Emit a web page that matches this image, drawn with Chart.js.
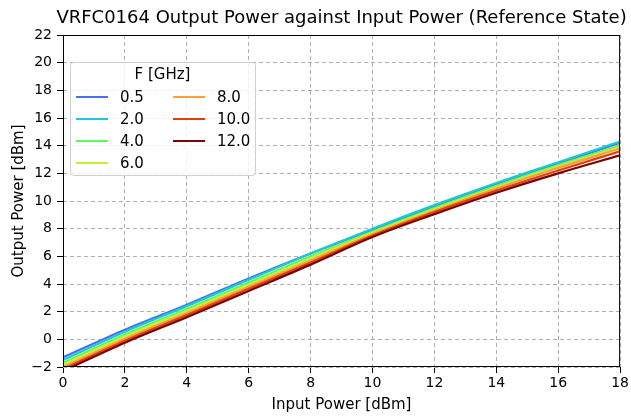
<!DOCTYPE html>
<html>
<head>
<meta charset="utf-8">
<script src="https://cdn.jsdelivr.net/npm/chart.js@4"></script>
<style>
  html, body { margin: 0; padding: 0; background: #fff; }
  #wrap { width: 631px; height: 416px; }
</style>
</head>
<body>
<div id="wrap"><canvas id="chart-power"></canvas></div>
<script>
// 入力電力 [dBm]
const inputPower = [0, 2, 4, 6, 8, 10, 12, 14, 16, 18];
// 周波数ごとの出力電力 [dBm]
const freqLabels = ["0.5", "2.0", "4.0", "6.0", "8.0", "10.0", "12.0"];
const out_0_5  = [-1.3, 0.7, 2.5, 4.4, 6.2, 7.9, 9.6, 11.2, 12.7, 14.2];
const out_2_0  = [-1.5, 0.55, 2.4, 4.3, 6.2, 8.0, 9.7, 11.3, 12.8, 14.3];
const out_4_0  = [-1.7, 0.35, 2.2, 4.1, 6.0, 7.8, 9.5, 11.1, 12.6, 14.0];
const out_6_0  = [-1.85, 0.2, 2.05, 3.95, 5.85, 7.7, 9.4, 11.0, 12.5, 13.9];
const out_8_0  = [-2.0, 0.05, 1.9, 3.8, 5.7, 7.6, 9.3, 10.9, 12.4, 13.8];
const out_10_0 = [-2.15, -0.1, 1.75, 3.65, 5.55, 7.5, 9.2, 10.75, 12.2, 13.6];
const out_12_0 = [-2.3, -0.25, 1.6, 3.5, 5.4, 7.4, 9.05, 10.6, 12.0, 13.3];
const xTicks = [0, 2, 4, 6, 8, 10, 12, 14, 16, 18];
const yTicks = [-2, 0, 2, 4, 6, 8, 10, 12, 14, 16, 18, 20, 22];

const series = [out_0_5, out_2_0, out_4_0, out_6_0, out_8_0, out_10_0, out_12_0];
const colors = ["#4a6ff0", "#1cc9d6", "#5dfa62", "#c6f034", "#ff9d3a", "#e0400e", "#7a0403"];

const FONT = "'DejaVu Sans', sans-serif";
const fmt = (v) => String(v).replace("-", "\u2212");

// 枠線とタイトル、2列の凡例を描くプラグイン
const framePlugin = {
  id: "frame",
  afterDraw(chart) {
    const { ctx, chartArea: a } = chart;
    ctx.save();
    ctx.strokeStyle = "#000";
    ctx.lineWidth = 1;
    ctx.setLineDash([]);
    ctx.strokeRect(a.left + 0.5, a.top + 0.5, a.right - a.left - 1, a.bottom - a.top - 1);

    ctx.fillStyle = "#000";
    ctx.font = "18px " + FONT;
    ctx.textAlign = "center";
    ctx.textBaseline = "middle";
    ctx.fillText("VRFC0164 Output Power against Input Power (Reference State)", (a.left + a.right) / 2, 18);

    // 凡例
    const lx = 70, ly = 62, lw = 185, lh = 113;
    ctx.fillStyle = "rgba(255,255,255,0.8)";
    ctx.strokeStyle = "#d0d0d0";
    ctx.beginPath();
    ctx.roundRect(lx + 0.5, ly + 0.5, lw, lh, 3);
    ctx.fill();
    ctx.stroke();
    ctx.fillStyle = "#000";
    ctx.font = "15px " + FONT;
    ctx.fillText("F [GHz]", lx + lw / 2, ly + 13);
    ctx.textAlign = "left";
    chart.data.datasets.forEach((ds, i) => {
      const col = i < 4 ? 0 : 1;
      const row = i < 4 ? i : i - 4;
      const x = lx + 6 + col * 97;
      const y = ly + 35 + row * 22;
      ctx.strokeStyle = ds.borderColor;
      ctx.lineWidth = 2;
      ctx.beginPath();
      ctx.moveTo(x, y);
      ctx.lineTo(x + 32, y);
      ctx.stroke();
      ctx.fillStyle = "#000";
      ctx.fillText(ds.label, x + 44, y + 1);
    });
    ctx.restore();
  },
};

const gridOpts = { color: "#b0b0b0", tickColor: "#000", tickLength: 6, tickWidth: 1, tickBorderDash: [] };

new Chart(document.getElementById("chart-power"), {
  type: "line",
  data: {
    datasets: series.map((vals, i) => ({
      label: freqLabels[i],
      data: inputPower.map((p, j) => ({ x: p, y: vals[j] })),
      borderColor: colors[i],
      borderWidth: 2.2,
      pointRadius: 0,
      fill: false,
      cubicInterpolationMode: "monotone",
      order: series.length - i, // 後の系列を上に描く
    })),
  },
  options: {
    responsive: true,
    maintainAspectRatio: false,
    animation: false,
    layout: { padding: { top: 35, right: 10, left: 0, bottom: 0 } },
    plugins: { legend: { display: false }, title: { display: false }, tooltip: { enabled: false } },
    scales: {
      x: {
        type: "linear",
        min: 0,
        max: 18,
        afterFit: (s) => { s.height = 49; },
        afterBuildTicks: (s) => { s.ticks = xTicks.map((v) => ({ value: v })); },
        grid: gridOpts,
        border: { display: false, dash: [4, 3] },
        ticks: { color: "#000", font: { family: FONT, size: 14 }, padding: 2, maxRotation: 0, callback: fmt },
        title: { display: true, text: "Input Power [dBm]", color: "#000", font: { family: FONT, size: 15 }, padding: { top: 0, bottom: 2 } },
      },
      y: {
        type: "linear",
        min: -2,
        max: 22,
        afterFit: (s) => { s.width = 63; },
        afterBuildTicks: (s) => { s.ticks = yTicks.map((v) => ({ value: v })); },
        grid: gridOpts,
        border: { display: false, dash: [4, 3] },
        ticks: { color: "#000", font: { family: FONT, size: 14 }, padding: 5, callback: fmt },
        title: { display: true, text: "Output Power [dBm]", color: "#000", font: { family: FONT, size: 15 }, padding: { top: 10, bottom: 2 } },
      },
    },
  },
  plugins: [framePlugin],
});
</script>
</body>
</html>
